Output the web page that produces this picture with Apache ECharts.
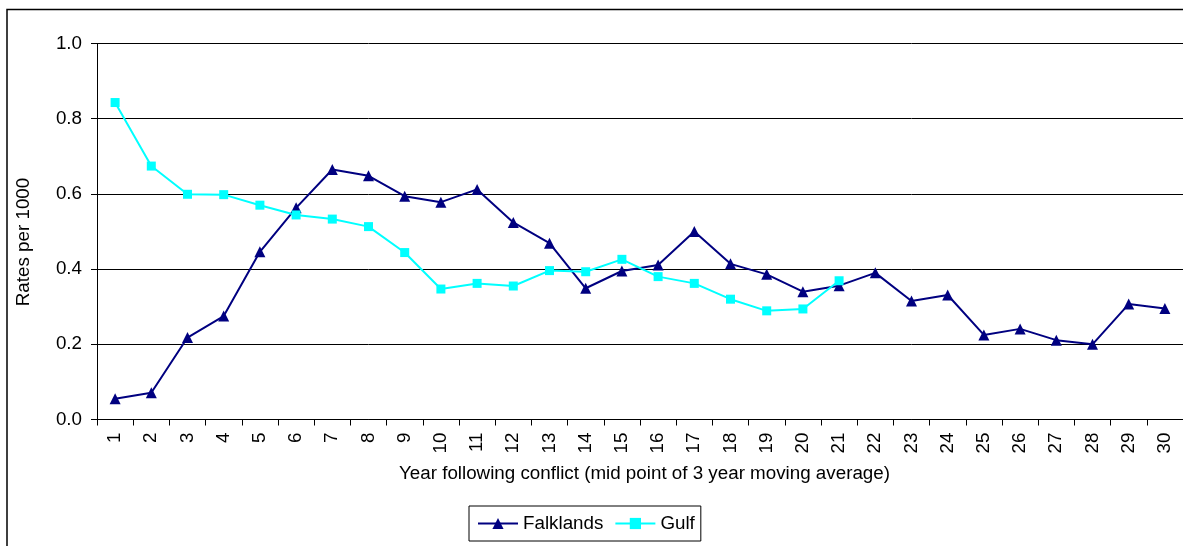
<!DOCTYPE html>
<html>
<head>
<meta charset="utf-8">
<script src="https://cdn.jsdelivr.net/npm/echarts@6/dist/echarts.min.js"></script>
<style>
  html, body { margin: 0; padding: 0; background: #fff; }
  #chart { width: 1183px; height: 546px; }
</style>
</head>
<body>
<div id="chart"></div>
<script>
// Years after conflict (mid point of a 3-year moving average)
const years = Array.from({ length: 30 }, (_, i) => String(i + 1));

// Rates per 1000
const falklands = [
  0.055, 0.071, 0.218, 0.275, 0.446, 0.563, 0.665, 0.648, 0.594, 0.578,
  0.612, 0.524, 0.469, 0.349, 0.395, 0.411, 0.500, 0.414, 0.386, 0.340,
  0.356, 0.390, 0.315, 0.331, 0.225, 0.241, 0.211, 0.200, 0.307, 0.295
];
const gulf = [
  0.843, 0.674, 0.599, 0.598, 0.570, 0.544, 0.533, 0.513, 0.444, 0.347,
  0.362, 0.355, 0.396, 0.393, 0.426, 0.380, 0.362, 0.320, 0.289, 0.294,
  0.369
];

const yTicks = { min: 0, max: 1, interval: 0.2 };
const yTitle = 'Rates per 1000';
const xTitle = 'Year following conflict (mid point of 3 year moving average)';

const FONT = 'Liberation Sans, Arial, sans-serif';
const FS = 18.8;

const chart = echarts.init(document.getElementById('chart'), null, { renderer: 'canvas' });

chart.setOption({
  backgroundColor: '#fff',
  animation: false,
  textStyle: { fontFamily: FONT },
  graphic: [
    {
      type: 'rect',
      shape: { x: 7, y: 9.5, width: 1300, height: 700 },
      style: { fill: 'none', stroke: '#000', lineWidth: 1.5 },
      silent: true
    },
    {
      type: 'text',
      x: 24, y: 242,
      rotation: Math.PI / 2,
      style: {
        text: yTitle, fill: '#000', font: FS + 'px ' + FONT,
        align: 'center', verticalAlign: 'middle'
      }
    }
  ],
  grid: { left: 97, top: 43.5, width: 1092, height: 376, containLabel: false },
  legend: {
    left: 469, top: 506,
    orient: 'horizontal',
    itemWidth: 40, itemHeight: 14,
    itemGap: 11,
    padding: [8, 6, 8, 8],
    borderColor: '#000', borderWidth: 1,
    textStyle: { fontSize: FS, color: '#000', fontFamily: FONT },
    data: ['Falklands', 'Gulf']
  },
  xAxis: {
    type: 'category',
    data: years,
    boundaryGap: true,
    name: xTitle,
    nameLocation: 'middle',
    nameGap: 45,
    nameTextStyle: { fontSize: FS, color: '#000', fontFamily: FONT, padding: [0, 0, 0, 9] },
    axisLine: { lineStyle: { color: '#000', width: 1 } },
    axisTick: { show: true, length: 6, lineStyle: { color: '#000' }, interval: 0 },
    axisLabel: { rotate: 90, interval: 0, margin: 13, fontSize: FS, color: '#000', fontFamily: FONT },
    splitLine: { show: false }
  },
  yAxis: {
    type: 'value',
    min: yTicks.min, max: yTicks.max, interval: yTicks.interval,
    axisLine: { show: true, lineStyle: { color: '#000', width: 1 } },
    axisTick: { show: true, length: 6, lineStyle: { color: '#000' } },
    axisLabel: {
      margin: 15, fontSize: FS, color: '#000', fontFamily: FONT,
      formatter: v => v.toFixed(1)
    },
    splitLine: { show: true, lineStyle: { color: '#000', width: 1 } }
  },
  series: [
    {
      name: 'Falklands',
      type: 'line',
      data: falklands,
      symbol: 'triangle',
      symbolSize: 11,
      itemStyle: { color: '#000080' },
      lineStyle: { color: '#000080', width: 2 }
    },
    {
      name: 'Gulf',
      type: 'line',
      data: gulf,
      symbol: 'rect',
      symbolSize: 9,
      itemStyle: { color: '#00FFFF' },
      lineStyle: { color: '#00FFFF', width: 2 }
    }
  ]
});
</script>
</body>
</html>
